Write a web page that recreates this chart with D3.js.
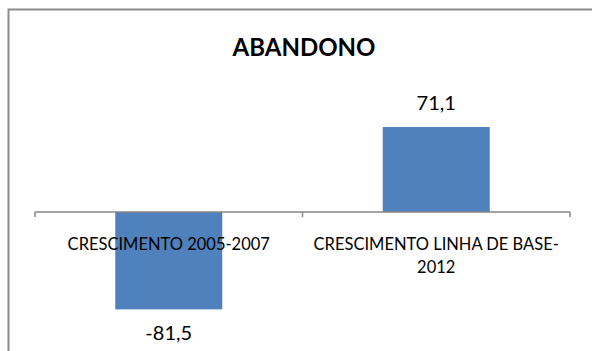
<!DOCTYPE html>
<html>
<head>
<meta charset="utf-8">
<script src="https://cdn.jsdelivr.net/npm/d3@7"></script>
<style>
  html, body { margin: 0; padding: 0; background: #fff; }
  svg { display: block; font-family: Lato, "Open Sans", sans-serif; }
</style>
</head>
<body>
<svg id="chart" width="592" height="351"></svg>
<script>
// Chart data
const categories = ["CRESCIMENTO 2005-2007", "CRESCIMENTO LINHA DE BASE-2012"];
const categoryLines = [["CRESCIMENTO 2005-2007"], ["CRESCIMENTO LINHA DE BASE-", "2012"]];
const values = [-81.5, 71.1];
const valueLabels = ["-81,5", "71,1"];
const chartTitle = "ABANDONO";

const svg = d3.select("#chart");

// Outer frame of the chart area (runs past the right and bottom edges)
svg.append("rect")
  .attr("x", 8.5).attr("y", 9.5)
  .attr("width", 640).attr("height", 400)
  .attr("fill", "#fff")
  .attr("stroke", "#8c8c8c")
  .attr("stroke-width", 2);

// Scales
const x = d3.scaleBand().domain(categories).range([35, 570]).padding(0);
const zeroY = 212, pxPerUnit = 1.195;
const y = d3.scaleLinear()
  .domain([-100, 80])
  .range([zeroY + 100 * pxPerUnit, zeroY - 80 * pxPerUnit]);

const barW = x.bandwidth() * 0.4;

// Bars
svg.selectAll("rect.bar")
  .data(values)
  .join("rect")
  .attr("class", "bar")
  .attr("x", (d, i) => x(categories[i]) + (x.bandwidth() - barW) / 2)
  .attr("y", d => y(Math.max(0, d)))
  .attr("width", barW)
  .attr("height", d => Math.abs(y(d) - y(0)))
  .attr("fill", "#4f81bd");

// Category axis line with tick marks at band boundaries
const axisG = svg.append("g").attr("stroke", "#868686").attr("stroke-width", 1.5);
axisG.append("line")
  .attr("x1", x.range()[0]).attr("x2", x.range()[1])
  .attr("y1", y(0)).attr("y2", y(0));
const tickPos = categories.map(c => x(c)).concat([x.range()[1]]);
axisG.selectAll("line.tick")
  .data(tickPos)
  .join("line")
  .attr("class", "tick")
  .attr("x1", d => d).attr("x2", d => d)
  .attr("y1", y(0)).attr("y2", y(0) + 5);

// Category labels
categoryLines.forEach((lines, i) => {
  const cx = x(categories[i]) + x.bandwidth() / 2;
  const t = svg.append("text")
    .attr("text-anchor", "middle")
    .attr("font-size", 16.5)
    .attr("fill", "#000");
  lines.forEach((ln, j) => {
    t.append("tspan").attr("x", cx).attr("y", 250 + j * 23).text(ln);
  });
});

// Value labels
svg.selectAll("text.val")
  .data(values)
  .join("text")
  .attr("class", "val")
  .attr("text-anchor", "middle")
  .attr("font-size", 20)
  .attr("fill", "#000")
  .attr("x", (d, i) => x(categories[i]) + x.bandwidth() / 2)
  .attr("y", d => d >= 0 ? y(d) - 17 : y(d) + 31)
  .text((d, i) => valueLabels[i]);

// Title
svg.append("text")
  .attr("x", 304).attr("y", 56)
  .attr("text-anchor", "middle")
  .attr("font-size", 24)
  .attr("font-weight", "bold")
  .attr("fill", "#000")
  .text(chartTitle);
</script>
</body>
</html>
